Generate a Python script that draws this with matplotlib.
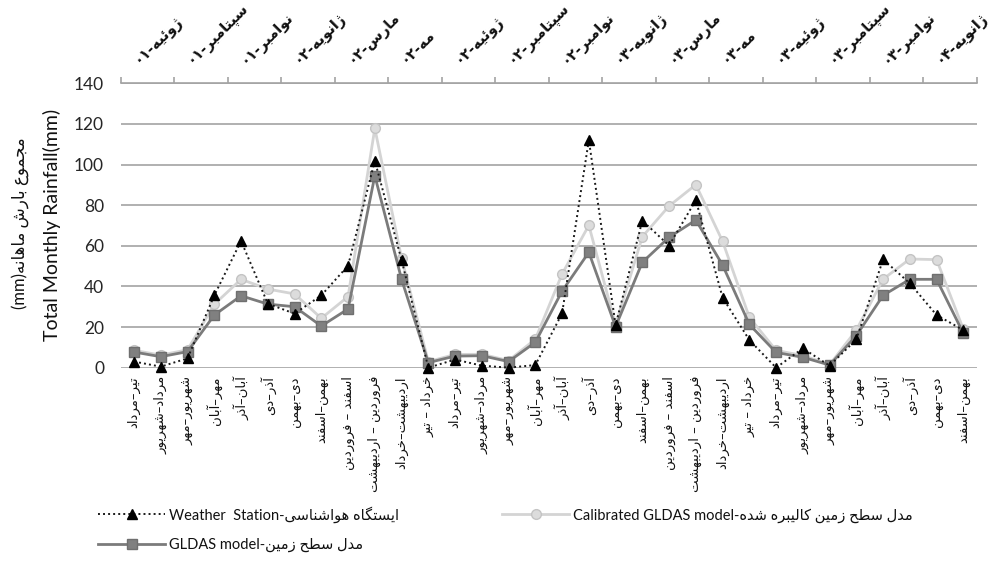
import re
import numpy as np
import matplotlib
matplotlib.use("Agg")
import matplotlib.pyplot as plt
from matplotlib.transforms import ScaledTranslation

# ---------------------------------------------------------------- data
periods = [
    "تیر–مرداد", "مرداد–شهریور", "شهریور–مهر", "مهر–آبان", "آبان–آذر", "آذر–دی",
    "دی–بهمن", "بهمن–اسفند", "اسفند – فروردین", "فروردین – اردیبهشت",
    "اردیبهشت–خرداد", "خرداد – تیر",
    "تیر–مرداد", "مرداد–شهریور", "شهریور–مهر", "مهر–آبان", "آبان–آذر", "آذر–دی",
    "دی–بهمن", "بهمن–اسفند", "اسفند – فروردین", "فروردین – اردیبهشت",
    "اردیبهشت–خرداد", "خرداد – تیر",
    "تیر–مرداد", "مرداد–شهریور", "شهریور–مهر", "مهر–آبان", "آبان–آذر", "آذر–دی",
    "دی–بهمن", "بهمن–اسفند",
]

months_top = [
    "ژوئیه-۰۱", "سپتامبر-۰۱", "نوامبر-۰۱", "ژانویه-۰۲", "مارس-۰۲", "مه-۰۲",
    "ژوئیه-۰۲", "سپتامبر-۰۲", "نوامبر-۰۲", "ژانویه-۰۳", "مارس-۰۳", "مه-۰۳",
    "ژوئیه-۰۳", "سپتامبر-۰۳", "نوامبر-۰۳", "ژانویه-۰۴",
]

weather_station = [3, 0.5, 4.6, 35.6, 62.4, 31.5, 26.6, 35.6, 50.2, 101.9, 53, 0,
                   4, 1, 0, 1.3, 26.7, 112.1, 21, 72.4, 60.1, 82.5, 34.5, 13.6,
                   0, 9.5, 1, 13.9, 53.3, 41.5, 25.9, 18.5]

calibrated_gldas = [8.5, 6.2, 8.8, 31.2, 43.5, 38.7, 36.3, 24.3, 35.0, 117.8, 53.9, 3.0,
                    6.5, 6.6, 3.5, 14.0, 46.1, 70.1, 21.0, 64.5, 79.6, 90.1, 62.2, 24.8,
                    8.5, 6.0, 1.5, 18.5, 43.6, 53.5, 53.2, 18.9]

gldas = [7.7, 5.4, 7.9, 25.9, 35.4, 31.3, 30.0, 20.5, 28.9, 94.5, 43.5, 2.5,
         5.7, 5.9, 3.0, 12.5, 37.7, 56.8, 20.2, 51.9, 64.2, 72.7, 50.5, 21.3,
         7.5, 5.1, 1.3, 15.8, 35.6, 43.5, 43.5, 16.9]

y_ticks = [0, 20, 40, 60, 80, 100, 120, 140]

# ------------------------------------------------- Persian text shaping
FORMS = {
    'ا': ('\uFE8D', '\uFE8E', None, None),
    'آ': ('\uFE81', '\uFE82', None, None),
    'ئ': ('\uFE89', '\uFE8A', '\uFE8B', '\uFE8C'),
    'ب': ('\uFE8F', '\uFE90', '\uFE91', '\uFE92'),
    'پ': ('\uFB56', '\uFB57', '\uFB58', '\uFB59'),
    'ت': ('\uFE95', '\uFE96', '\uFE97', '\uFE98'),
    'ج': ('\uFE9D', '\uFE9E', '\uFE9F', '\uFEA0'),
    'ح': ('\uFEA1', '\uFEA2', '\uFEA3', '\uFEA4'),
    'خ': ('\uFEA5', '\uFEA6', '\uFEA7', '\uFEA8'),
    'د': ('\uFEA9', '\uFEAA', None, None),
    'ذ': ('\uFEAB', '\uFEAC', None, None),
    'ر': ('\uFEAD', '\uFEAE', None, None),
    'ز': ('\uFEAF', '\uFEB0', None, None),
    'ژ': ('\uFB8A', '\uFB8B', None, None),
    'س': ('\uFEB1', '\uFEB2', '\uFEB3', '\uFEB4'),
    'ش': ('\uFEB5', '\uFEB6', '\uFEB7', '\uFEB8'),
    'ط': ('\uFEC1', '\uFEC2', '\uFEC3', '\uFEC4'),
    'ع': ('\uFEC9', '\uFECA', '\uFECB', '\uFECC'),
    'ف': ('\uFED1', '\uFED2', '\uFED3', '\uFED4'),
    'ک': ('\uFB8E', '\uFB8F', '\uFB90', '\uFB91'),
    'گ': ('\uFB92', '\uFB93', '\uFB94', '\uFB95'),
    'ل': ('\uFEDD', '\uFEDE', '\uFEDF', '\uFEE0'),
    'م': ('\uFEE1', '\uFEE2', '\uFEE3', '\uFEE4'),
    'ن': ('\uFEE5', '\uFEE6', '\uFEE7', '\uFEE8'),
    'ه': ('\uFEE9', '\uFEEA', '\uFEEB', '\uFEEC'),
    'و': ('\uFEED', '\uFEEE', None, None),
    'ی': ('\uFBFC', '\uFBFD', '\uFBFE', '\uFBFF'),
}
TATWEEL = 'ـ'
DIGITS = '0123456789۰۱۲۳۴۵۶۷۸۹'
MIRROR = str.maketrans('()', ')(')


def _links_forward(c):
    return c == TATWEEL or (c in FORMS and FORMS[c][2] is not None)


def _links_back(c):
    return c == TATWEEL or c in FORMS


def shape(s):
    out = []
    for i, c in enumerate(s):
        if c not in FORMS:
            out.append(c)
            continue
        prev = s[i - 1] if i > 0 else ''
        nxt = s[i + 1] if i + 1 < len(s) else ''
        jp = bool(prev) and _links_forward(prev)
        jn = FORMS[c][2] is not None and bool(nxt) and _links_back(nxt)
        iso, fin, ini, med = FORMS[c]
        if jp and jn:
            out.append(med)
        elif jp:
            out.append(fin)
        elif jn:
            out.append(ini)
        else:
            out.append(iso)
    return ''.join(out)


def fa(s):
    """Shape Persian text and put it in left-to-right display order."""
    shaped = shape(s)
    runs = re.findall('[' + DIGITS + ']+|[^' + DIGITS + ']+', shaped)
    out = []
    for r in reversed(runs):
        if r[0] in DIGITS:
            out.append(r)
        else:
            out.append(r[::-1].translate(MIRROR))
    return ''.join(out)


# ---------------------------------------------------------------- figure
plt.rcParams['font.family'] = ['Lato', 'DejaVu Sans']
FA_FONT = ['DejaVu Sans']

fig = plt.figure(figsize=(9.9, 5.66), dpi=100)
ax = fig.add_axes([0.1219, 0.3504, 0.8647, 0.5024])

x = np.arange(len(periods))
grid_col = '#a3a3a3'

ax.plot(x, calibrated_gldas, color='#d4d4d4', lw=2.0, marker='o', ms=7,
        mfc='#dcdcdc', mec='#c4c4c4', mew=1.0, zorder=3, clip_on=False,
        label='Calibrated GLDAS model-' + fa('مدل سطح زمین کالیبره شده'))
ax.plot(x, gldas, color='#7b7b7b', lw=2.0, marker='s', ms=6.5,
        mfc='#808080', mec='#6f6f6f', mew=1.0, zorder=4, clip_on=False,
        label='GLDAS model-' + fa('مدل سطح زمین'))
ax.plot(x, weather_station, color='#1a1a1a', lw=1.4, ls=(0, (1, 1.6)),
        marker='^', ms=6.5, mfc='black', mec='black', zorder=5, clip_on=False,
        label='Weather  Station-' + fa('ایستگاه هواشناسی'))

ax.set_xlim(-0.5, len(periods) - 0.5)
ax.set_ylim(0, 140)
ax.set_yticks(y_ticks)
ax.yaxis.grid(True, color=grid_col, lw=1.2)
ax.set_axisbelow(True)
ax.tick_params(axis='y', length=0, pad=12, labelsize=12.5, labelcolor='#262626')

for side in ('left', 'right', 'bottom'):
    ax.spines[side].set_visible(False)
ax.spines['top'].set_color(grid_col)
ax.spines['top'].set_linewidth(1.2)

# bottom category labels, rotated
ax.set_xticks(x)
ax.set_xticklabels([fa(p) for p in periods], rotation=90, fontsize=9.5,
                   family=FA_FONT, color='#111111')
ax.tick_params(axis='x', bottom=False, length=0, pad=6)

# top date axis: ticks every two periods
top = ax.secondary_xaxis('top')
top.set_xticks(np.arange(-0.5, len(periods), 2))
top.set_xticklabels([])
top.tick_params(axis='x', length=4, width=1.2, color=grid_col, direction='out')
top.spines['top'].set_visible(False)

top_tr = ax.get_xaxis_transform() + ScaledTranslation(-9 / 100, 19 / 100, fig.dpi_scale_trans)
for k, m in enumerate(months_top):
    ax.text(0.5 + 2 * k, 1.0, fa(m), transform=top_tr, rotation=45,
            rotation_mode='anchor', ha='left', va='baseline', fontsize=10.5,
            family=FA_FONT, fontweight='bold', color='#111111')

# axis title in two lines
fig.text(52 / 990, 1 - 225 / 566, 'Total Monthly Rainfall(mm)', rotation=90,
         ha='center', va='center', fontsize=14, color='#111111')
fig.text(20 / 990, 1 - 223 / 566, '(mm)' + fa('مجموع بارش ماهانه'), rotation=90,
         ha='center', va='center', fontsize=12, color='#111111')

handles, labels = ax.get_legend_handles_labels()
order = [2, 1, 0]
leg = fig.legend([handles[i] for i in order], [labels[i] for i in order],
                 loc='upper left', bbox_to_anchor=(98 / 990, 1 - 506 / 566),
                 ncol=2, frameon=False, fontsize=10.5, handlelength=4.6,
                 handletextpad=0.25, columnspacing=7.1, labelspacing=1.05,
                 borderpad=0, borderaxespad=0)
for t in leg.get_texts():
    t.set_color('#111111')

fig.savefig('out.png', dpi=100)
